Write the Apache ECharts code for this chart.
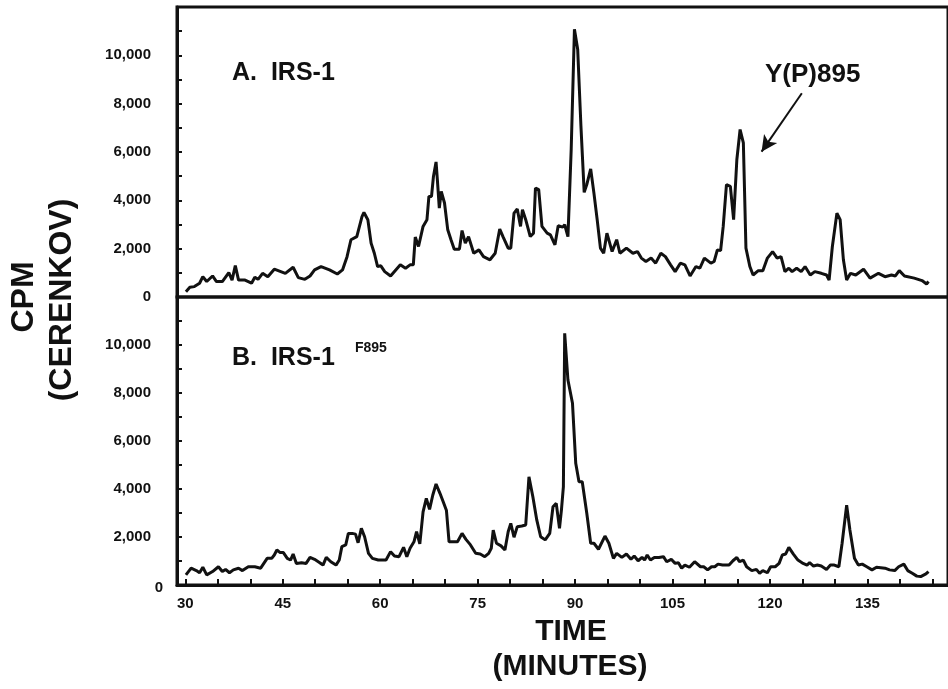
<!DOCTYPE html>
<html>
<head>
<meta charset="utf-8">
<script src="https://cdn.jsdelivr.net/npm/echarts@6/dist/echarts.min.js"></script>
<style>html,body{margin:0;padding:0;background:#fff;}#c{width:948px;height:689px;}</style>
</head>
<body>
<div id="c"></div>
<script>
// ---- Panel A: IRS-1 (time in minutes, CPM) ----
var timeA = [30.1,30.7,31.4,32.2,32.7,33.3,34.2,34.8,35.7,36.7,37.2,37.7,38.2,39.2,40.2,40.7,41.2,41.9,42.7,43.7,44.7,45.4,46.6,47.4,48.4,49.2,49.9,50.9,52.2,53.4,54.2,54.9,55.5,56.4,57.2,57.5,58.1,58.6,59.1,59.6,60.1,60.7,61.6,62.4,63.1,63.9,64.6,65.1,65.4,65.9,66.6,67.2,67.5,67.9,68.2,68.6,68.8,69.1,69.4,69.9,70.4,70.9,71.4,72.2,72.6,73.1,73.6,74.4,75.2,75.9,76.9,77.7,78.4,78.9,79.7,80.1,80.6,81.1,81.6,81.9,82.4,83.1,83.6,83.9,84.4,84.9,85.7,86.2,86.9,87.4,88.1,88.4,88.9,89.4,89.9,90.4,90.9,91.4,91.8,92.4,92.9,93.4,93.9,94.4,94.9,95.7,96.4,96.9,97.9,98.9,99.6,100.2,100.9,101.7,102.4,103.2,103.9,104.7,105.4,106.2,106.9,107.7,108.6,109.2,109.9,110.9,111.4,111.9,112.4,112.8,113.3,113.9,114.4,114.9,115.4,115.9,116.3,116.9,117.4,118.2,118.9,119.6,120.4,121.1,121.7,122.3,122.9,123.4,124.1,124.8,125.4,126.2,126.9,127.9,128.7,129.1,129.6,130.3,130.8,131.3,131.8,132.4,133.2,134.4,135.4,136.7,137.7,138.7,139.3,139.9,140.7,142.2,143.4,144.1,144.4];
var cpmA = [220,400,430,570,840,640,870,640,640,1010,700,1300,700,700,570,820,730,980,840,1150,1050,980,1230,800,730,870,1120,1260,1120,950,1120,1670,2370,2500,3330,3500,3200,2230,1810,1260,1290,1050,870,1120,1330,1190,1330,1330,2480,2090,2920,3200,4160,4160,4990,5590,4860,3680,4370,3890,2780,2370,1980,1980,2750,2230,2500,1810,1950,1670,1540,1810,2810,2500,2020,2020,3470,3640,2920,3610,3200,2500,2640,4510,4440,2920,2640,2570,2160,2950,2890,2990,2500,6100,11080,10250,7070,4330,4650,5300,4300,3200,2020,1810,2640,1880,2370,1810,2020,1810,1880,1610,1470,1610,1400,1810,1670,1330,1050,1400,1330,870,1260,1190,1610,1400,1470,1950,1920,2920,4650,4580,3200,5690,6930,6380,2020,1260,910,1090,1090,1610,1880,1610,1670,1050,1190,1050,1190,1050,1260,910,1050,980,910,700,2090,3470,3200,1540,700,980,910,1150,780,980,840,910,870,1090,870,780,680,540,640];

// ---- Panel B: IRS-1 F895 ----
var timeB = [30.1,30.9,31.7,32.2,32.7,33.3,34.2,35.1,35.7,36.2,36.8,37.4,38.2,38.8,39.7,40.7,41.6,42.6,43.3,43.7,44.1,44.6,45.1,45.7,46.2,46.6,47.1,47.9,48.6,49.2,49.9,50.7,51.2,51.7,52.4,53.2,53.7,54.1,54.7,55.1,55.7,56.2,56.6,57.1,57.6,58.2,58.8,59.7,60.9,61.6,62.2,62.9,63.6,64.1,64.6,65.2,65.6,66.1,66.6,67.1,67.6,68.1,68.6,69.2,69.7,70.2,70.6,71.2,71.9,72.6,73.2,73.9,74.7,75.4,76.1,76.7,77.1,77.4,77.9,78.6,79.2,79.7,80.1,80.6,81.1,81.8,82.4,82.9,83.5,84.1,84.7,85.4,86.1,86.6,87.1,87.6,87.9,88.2,88.4,88.9,89.6,90.1,90.6,91.1,91.8,92.4,92.9,93.6,94.6,95.2,95.9,96.4,97.2,97.9,98.6,99.1,99.7,100.3,100.7,101.1,101.6,102.2,102.9,103.6,104.1,104.8,105.4,105.9,106.4,106.9,107.6,108.4,109.3,109.8,110.4,111.0,111.5,112.0,112.7,113.7,114.3,114.9,115.3,115.9,116.4,117.2,117.9,118.4,118.9,119.6,120.1,120.8,121.4,121.9,122.4,122.9,123.6,124.3,125.1,125.7,126.1,126.7,127.3,127.9,128.7,129.3,129.9,130.6,131.1,131.8,132.3,133.0,133.6,134.2,134.9,135.7,136.4,137.7,138.4,139.2,139.8,140.6,141.2,141.9,142.6,143.2,144.0,144.4];
var cpmB = [420,700,600,510,740,420,560,760,560,650,510,630,700,600,760,760,700,1110,1110,1250,1460,1350,1350,1110,1040,1290,900,930,900,1150,1070,930,830,1150,970,830,1040,1600,1670,2150,2150,2120,1760,2360,2010,1320,1110,1040,1040,1390,1210,1180,1570,1180,1530,1800,2220,1710,3050,3610,3150,3750,4210,3820,3470,3100,1800,1800,1800,2150,1900,1670,1320,1290,1180,1320,1530,2290,1740,1630,1460,2220,2570,1990,2430,2460,2500,4510,3680,2710,2010,1880,2150,3260,3400,2360,3130,4100,10490,8540,7570,5070,4300,4300,2990,1740,1740,1490,2040,1740,1110,1320,1150,1290,1070,1210,1010,1150,1040,1250,1040,1150,1150,1180,970,1070,900,930,700,830,740,970,760,760,630,760,760,870,830,830,1010,1150,970,1040,760,600,650,490,600,510,760,760,900,1250,1290,1570,1290,1040,900,830,930,790,830,790,650,830,830,760,1740,3330,2290,1110,830,870,760,630,740,700,630,600,760,870,600,490,370,350,460,560];

// ---- Axis ticks / labels ----
var xTickValues = [30,35,40,45,50,55,60,65,70,75,80,85,90,95,100,105,110,115,120,125,130,135,140,145];
var xLabelValues = [30,45,60,75,90,105,120,135];
var yLabelValues = [0,2000,4000,6000,8000,10000];

// Annotation arrow (data coordinates in panel A)
var arrowFrom = [124.9, 8430];
var arrowTo = [118.7, 6013];

function pairs(xs, ys){ return xs.map(function(x,i){ return [x, ys[i]]; }); }

var FONT = '"Liberation Sans", Arial, Helvetica, sans-serif';
var X_MIN = 28.725, X_MAX = 147.4;

function yAx(idx, showZero){
  return {
    gridIndex: idx, type: 'value', min: 0, max: 12000, interval: 1000,
    axisLine: {show: true, lineStyle: {color: '#111', width: 3}},
    axisTick: {show: true, inside: true, length: 5, lineStyle: {color: '#111', width: 2}},
    axisLabel: {
      margin: 26, color: '#111', fontFamily: FONT, fontWeight: 'bold', fontSize: 15,
      formatter: function(v){
        if (yLabelValues.indexOf(v) < 0) return '';
        if (v === 0 && !showZero) return '';
        return v.toLocaleString('en-US');
      }
    },
    splitLine: {show: false}
  };
}

var chart = echarts.init(document.getElementById('c'), null, {renderer: 'canvas'});
chart.setOption({
  animation: false,
  backgroundColor: '#fff',
  grid: [
    {left: 177, top: 7, width: 791, height: 290, show: true, borderColor: '#111', borderWidth: 3, containLabel: false},
    {left: 177, top: 297, width: 791, height: 288, show: true, borderColor: '#111', borderWidth: 3, containLabel: false}
  ],
  xAxis: [
    {gridIndex: 0, type: 'value', min: X_MIN, max: X_MAX,
     axisLine: {show: false}, axisTick: {show: false}, axisLabel: {show: false}, splitLine: {show: false}},
    {gridIndex: 1, type: 'value', min: X_MIN, max: X_MAX,
     axisLine: {show: true, onZero: false, lineStyle: {color: '#111', width: 3}},
     axisTick: {show: true, inside: true, length: 6, customValues: xTickValues, lineStyle: {color: '#111', width: 2}},
     axisLabel: {show: true, customValues: xLabelValues, margin: 11, color: '#111', fontFamily: FONT, fontWeight: 'bold', fontSize: 15},
     splitLine: {show: false}}
  ],
  yAxis: [yAx(0, true), yAx(1, false)],
  series: [
    {type: 'line', xAxisIndex: 0, yAxisIndex: 0, data: pairs(timeA, cpmA), showSymbol: false, symbol: 'none',
     lineStyle: {color: '#111', width: 3}, silent: true,
     markLine: {silent: true, symbol: ['none', 'arrow'], symbolSize: [12, 16],
       lineStyle: {color: '#111', width: 2, type: 'solid'}, label: {show: false},
       data: [[{coord: arrowFrom}, {coord: arrowTo}]]}},
    {type: 'line', xAxisIndex: 1, yAxisIndex: 1, data: pairs(timeB, cpmB), showSymbol: false, symbol: 'none',
     lineStyle: {color: '#111', width: 3}, silent: true}
  ],
  graphic: [
    {type: 'text', x: 232, y: 73, style: {text: 'A.  IRS-1', fill: '#111', font: 'bold 25px ' + FONT, textAlign: 'left', textVerticalAlign: 'middle'}},
    {type: 'text', x: 232, y: 358, style: {text: 'B.  IRS-1', fill: '#111', font: 'bold 25px ' + FONT, textAlign: 'left', textVerticalAlign: 'middle'}},
    {type: 'text', x: 355, y: 348, style: {text: 'F895', fill: '#111', font: 'bold 14px ' + FONT, textAlign: 'left', textVerticalAlign: 'middle'}},
    {type: 'text', x: 765, y: 75, style: {text: 'Y(P)895', fill: '#111', font: 'bold 26px ' + FONT, textAlign: 'left', textVerticalAlign: 'middle'}},
    {type: 'text', x: 159, y: 588, style: {text: '0', fill: '#111', font: 'bold 15px ' + FONT, textAlign: 'center', textVerticalAlign: 'middle'}},
    {type: 'text', x: 571, y: 632, style: {text: 'TIME', fill: '#111', font: 'bold 30px ' + FONT, textAlign: 'center', textVerticalAlign: 'middle'}},
    {type: 'text', x: 570, y: 667, style: {text: '(MINUTES)', fill: '#111', font: 'bold 30px ' + FONT, textAlign: 'center', textVerticalAlign: 'middle'}},
    {type: 'text', x: 24, y: 297, rotation: Math.PI / 2, style: {text: 'CPM', fill: '#111', font: 'bold 32px ' + FONT, textAlign: 'center', textVerticalAlign: 'middle'}},
    {type: 'text', x: 62, y: 300, rotation: Math.PI / 2, style: {text: '(CERENKOV)', fill: '#111', font: 'bold 32px ' + FONT, textAlign: 'center', textVerticalAlign: 'middle'}}
  ]
});
</script>
</body>
</html>
